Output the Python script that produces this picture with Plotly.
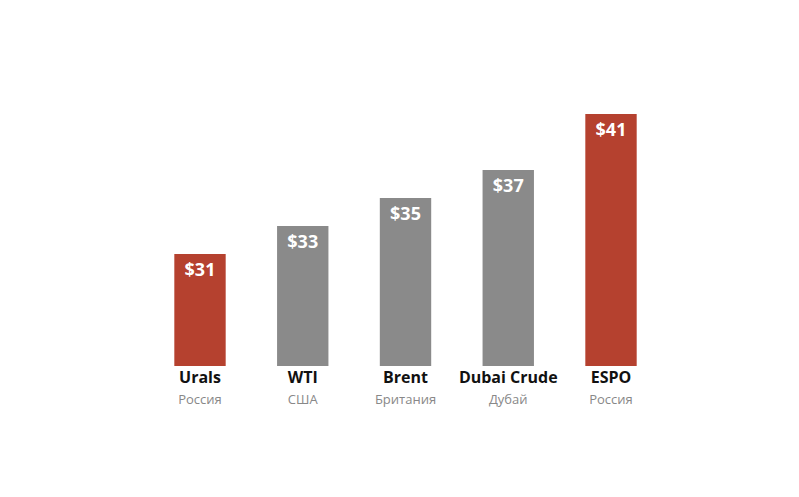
import plotly.graph_objects as go

names = ["Urals", "WTI", "Brent", "Dubai Crude", "ESPO"]
origins = ["Россия", "США", "Британия", "Дубай", "Россия"]
prices = [31, 33, 35, 37, 41]
colors = ["#b5412f", "#8a8a8a", "#8a8a8a", "#8a8a8a", "#b5412f"]

ticks = [f"<b>{n}</b><br><span style='color:#888888;font-size:13px'>{o}</span>"
         for n, o in zip(names, origins)]

fig = go.Figure(go.Bar(
    x=names, y=prices,
    marker=dict(color=colors, line_width=0),
    text=[f"<b>${p}</b>" for p in prices],
    textposition="inside", insidetextanchor="end",
    textfont=dict(color="white", size=18, family="Open Sans"),
    cliponaxis=False,
))

fig.update_layout(
    width=799, height=497,
    margin=dict(l=0, r=0, t=106, b=139),
    plot_bgcolor="white", paper_bgcolor="white",
    bargap=0.5, showlegend=False,
    font=dict(family="Open Sans", color="#111111", size=16),
)
fig.update_xaxes(domain=[0.176, 0.819], tickvals=names, ticktext=ticks,
                 showline=False, ticks="", ticklen=0)
fig.update_yaxes(range=[23, 41], visible=False)

fig.write_html("out.html")
